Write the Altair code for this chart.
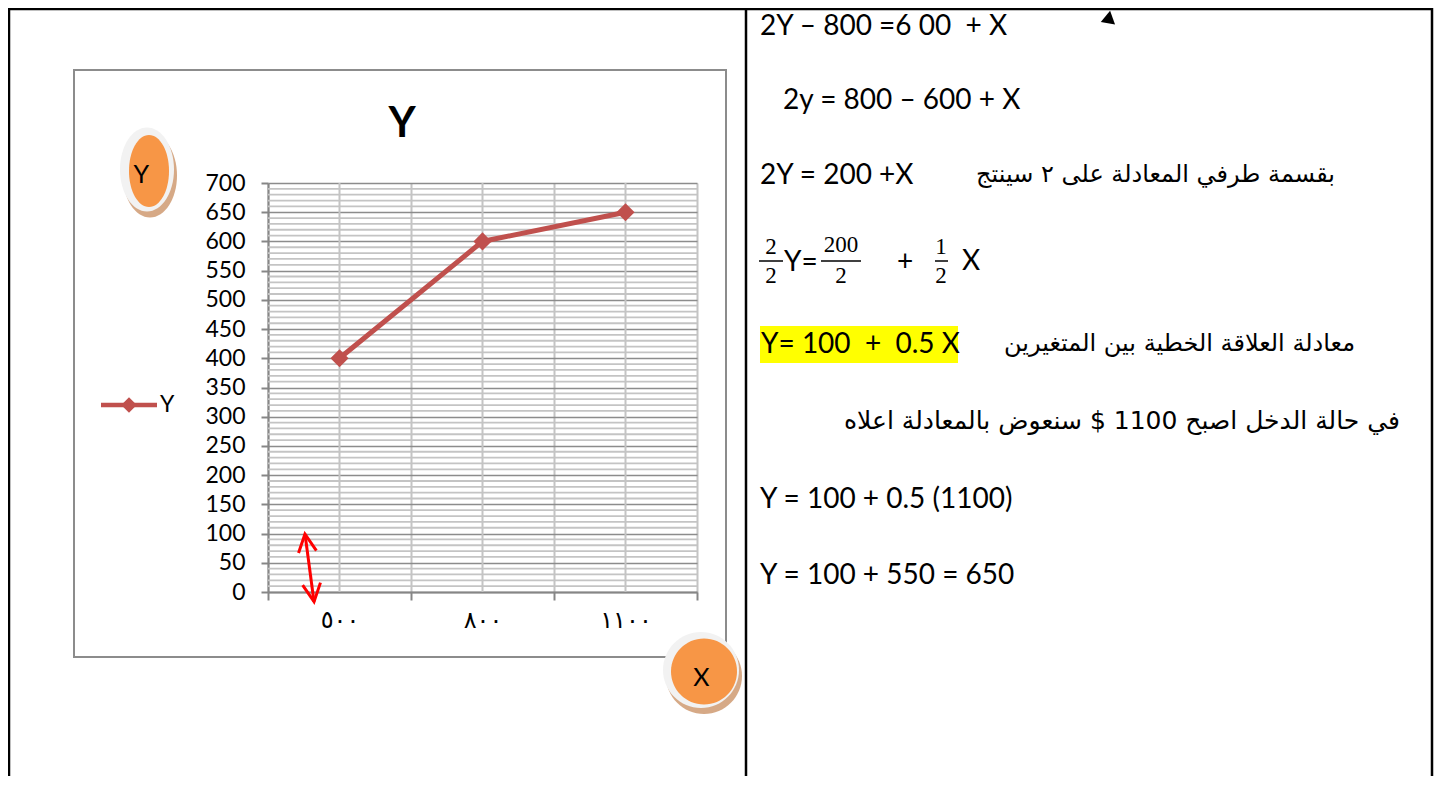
import altair as alt
import pandas as pd

# ---------------- data ----------------
x_labels = ["٥٠٠", "٨٠٠", "١١٠٠"]          # X categories (Arabic-Indic digits)
y_values = [400, 600, 650]                  # Y values
y_ticks = [0, 50, 100, 150, 200, 250, 300, 350, 400, 450, 500, 550, 600, 650, 700]
series_name = "Y"
chart_title = "Y"
badge_y = "Y"
badge_x = "X"

line1 = "2Y – 800 =6 00\u00a0\u00a0+ X"
line2 = "2y = 800 – 600 + X"
line3_left = "2Y = 200 +X"
line3_ar = "بقسمة طرفي المعادلة على ٢ سينتج"
frac_parts = ["2", "2", "Y=", "200", "2", "+", "1", "2", "X"]
line5_left = "Y= 100\u00a0\u00a0+\u00a0\u00a00.5 X"
line5_ar = "معادلة العلاقة الخطية بين المتغيرين"
line6_ar = "في حالة الدخل اصبح 1100 $ سنعوض بالمعادلة اعلاه"
line7 = "Y = 100 + 0.5 (1100)"
line8 = "Y = 100 + 550 = 650"

RED = "#C0504D"
ORANGE = "#F79646"
RING = "#F2F2F2"
SHADOW = "#D6A986"
GRID_MINOR = "#C4C4C4"
GRID_MAJOR = "#8C8C8C"
AXIS = "#868686"

df = pd.DataFrame({"X": x_labels, "Y": y_values, "series": [series_name] * len(x_labels)})
one = alt.Data(values=[{"k": 0}])


def txt(s, x, y, size=28, font="Lato", align="left", weight="normal"):
    return alt.Chart(one).mark_text(
        text=s, font=font, fontSize=size, align=align, baseline="middle",
        fontWeight=weight, color="black"
    ).encode(x=alt.value(x), y=alt.value(y))


def seg(x1, y1, x2, y2, color="black", w=2.5):
    return alt.Chart(one).mark_rule(color=color, strokeWidth=w).encode(
        x=alt.value(x1), y=alt.value(y1), x2=alt.value(x2), y2=alt.value(y2))


def ell(a):
    return f"M {-a} 0 A {a} 1 0 1 0 {a} 0 A {a} 1 0 1 0 {-a} 0 Z"


def blob(path, x, y, size, color):
    return alt.Chart(one).mark_point(
        shape=path, filled=True, color=color, size=size, opacity=1, strokeWidth=0
    ).encode(x=alt.value(x), y=alt.value(y))


# ---------------- scales / axes ----------------
x_axis = alt.Axis(
    tickBand="extent", grid=True, gridColor=GRID_MINOR, gridWidth=2,
    domainColor=AXIS, domainWidth=2, tickColor=AXIS, tickWidth=2, tickSize=8,
    labelFont="DejaVu Sans", labelFontSize=24, labelColor="black",
    labelPadding=20, labelBaseline="middle", labelAngle=0,
)
xenc = alt.X("X:N", sort=x_labels, bandPosition=0.5,
             scale=alt.Scale(type="band", paddingInner=0, paddingOuter=0),
             axis=x_axis, title=None)
yscale = alt.Scale(domain=[0, 700], nice=False, zero=True)
y_axis = alt.Axis(
    values=y_ticks, grid=True, gridColor=GRID_MAJOR, gridWidth=1.6,
    domainColor=AXIS, domainWidth=2, tickColor=AXIS, tickWidth=2, tickSize=7,
    labelFont="Lato", labelFontSize=23, labelColor="black", labelPadding=16,
)
yenc = alt.Y("Y:Q", scale=yscale, axis=y_axis, title=None)

minor = (alt.Chart(alt.sequence(0, 701, 10, as_="v"))
         .transform_filter("datum.v % 50 != 0")
         .mark_rule(color=GRID_MINOR, strokeWidth=1.8)
         .encode(y=alt.Y("v:Q", scale=yscale, axis=y_axis, title=None)))
vcenter = alt.Chart(df).mark_rule(color=GRID_MINOR, strokeWidth=2).encode(x=xenc)
line = alt.Chart(df).mark_line(color=RED, strokeWidth=5).encode(x=xenc, y=yenc)
pts = alt.Chart(df).mark_point(shape="diamond", filled=True, size=330, color=RED,
                               opacity=1).encode(x=xenc, y=yenc)

# ---------------- decorations (view coords: page - (268, 183)) ----------------
frame = alt.Chart(one).mark_rect(fillOpacity=0, stroke="#8C8C8C", strokeWidth=2).encode(
    x=alt.value(-194), x2=alt.value(458), y=alt.value(-113), y2=alt.value(474))

title_t = txt(chart_title, 134, -59, size=42, weight="bold", align="center")

# legend
leg_line = seg(-167, 222, -111, 222, RED, 4.5)
leg_pt = alt.Chart(one).mark_point(shape="diamond", filled=True, size=240, color=RED,
                                   opacity=1).encode(x=alt.value(-139), y=alt.value(222))
leg_t = txt(series_name, -108, 222, size=23)

# Y badge
yb_sh = blob(ell(0.643), -118, -7.5, 7056, SHADOW)
yb_ring = blob(ell(0.643), -121, -13.5, 7056, RING)
yb_or = blob(ell(0.556), -119, -12, 5184, ORANGE)
yb_t = txt(badge_y, -126.7, -8.5, size=25, align="center")

# X badge
circ = ell(1)
xb_sh = blob(circ, 436, 493, 5776, SHADOW)
xb_ring = blob(circ, 433, 487, 5776, RING)
xb_or = blob(circ, 436, 488.5, 4356, ORANGE)
xb_t = txt(badge_x, 433.3, 494.5, size=25, align="center")

# red double arrow
arrow_shaft = seg(37, 351, 46, 418.7, "#FF0000", 3)
vpath = "M -1 1 L 0 -1 L 1 1"
arrow_top = alt.Chart(one).mark_point(shape=vpath, filled=False, stroke="#FF0000", strokeWidth=3,
                                      size=324, angle=352, opacity=1).encode(
    x=alt.value(38.2), y=alt.value(359.9))
arrow_bot = alt.Chart(one).mark_point(shape=vpath, filled=False, stroke="#FF0000", strokeWidth=3,
                                      size=324, angle=172, opacity=1).encode(
    x=alt.value(44.8), y=alt.value(409.8))

# table borders
b_top = seg(-259, -174, 1164, -174)
b_left = seg(-259, -175, -259, 593)
b_mid = seg(478, -175, 478, 593)
b_right = seg(1164, -175, 1164, 593)

# little triangle
tri = alt.Chart(one).mark_point(shape="triangle-up", filled=True, color="black", size=210,
                                angle=10, opacity=1).encode(x=alt.value(841), y=alt.value(-166))

# right-hand text
t1 = txt(line1, 492, -156)
t2 = txt(line2, 515, -82)
t3 = txt(line3_left, 492, -7)
t3a = txt(line3_ar, 1067, -8, size=24, font="DejaVu Sans", align="right")

FF = "Liberation Serif"
FS = 23
f1a = txt(frac_parts[0], 503, 64, size=FS, font=FF, align="center")
f1bar = seg(491, 78, 515, 78, "black", 1.5)
f1b = txt(frac_parts[1], 503, 93, size=FS, font=FF, align="center")
f_y = txt(frac_parts[2], 516, 80)
f2a = txt(frac_parts[3], 573, 62, size=FS, font=FF, align="center")
f2bar = seg(553, 78, 593, 78, "black", 1.5)
f2b = txt(frac_parts[4], 573, 93, size=FS, font=FF, align="center")
f_plus = txt(frac_parts[5], 637, 80, align="center")
f3a = txt(frac_parts[6], 673, 64, size=FS, font=FF, align="center")
f3bar = seg(667, 78, 680, 78, "black", 1.5)
f3b = txt(frac_parts[7], 673, 93, size=FS, font=FF, align="center")
f_x = txt(frac_parts[8], 703, 79, align="center")

hl = alt.Chart(one).mark_rect(color="#FFFF00").encode(
    x=alt.value(492), x2=alt.value(690), y=alt.value(143), y2=alt.value(180))
t5 = txt(line5_left, 493, 162)
t5a = txt(line5_ar, 1087, 161, size=24, font="DejaVu Sans", align="right")
t6a = txt(line6_ar, 1132, 238, size=25, font="DejaVu Sans", align="right")
t7 = txt(line7, 492, 317)
t8 = txt(line8, 492, 393)

chart = alt.layer(
    frame, minor, vcenter, line, pts,
    arrow_shaft, arrow_top, arrow_bot,
    title_t, leg_line, leg_pt, leg_t,
    yb_sh, yb_ring, yb_or, yb_t,
    xb_sh, xb_ring, xb_or, xb_t,
    b_top, b_left, b_mid, b_right, tri,
    t1, t2, t3, t3a,
    f1a, f1bar, f1b, f_y, f2a, f2bar, f2b, f_plus, f3a, f3bar, f3b, f_x,
    hl, t5, t5a, t6a, t7, t8,
).properties(
    width=429, height=409,
    autosize=alt.AutoSizeParams(type="none"),
    padding={"left": 260, "top": 175, "right": 737, "bottom": 184},
    background="white",
).configure_view(strokeWidth=0)

chart.save("out.html", embed_options={"renderer": "svg", "actions": False})
